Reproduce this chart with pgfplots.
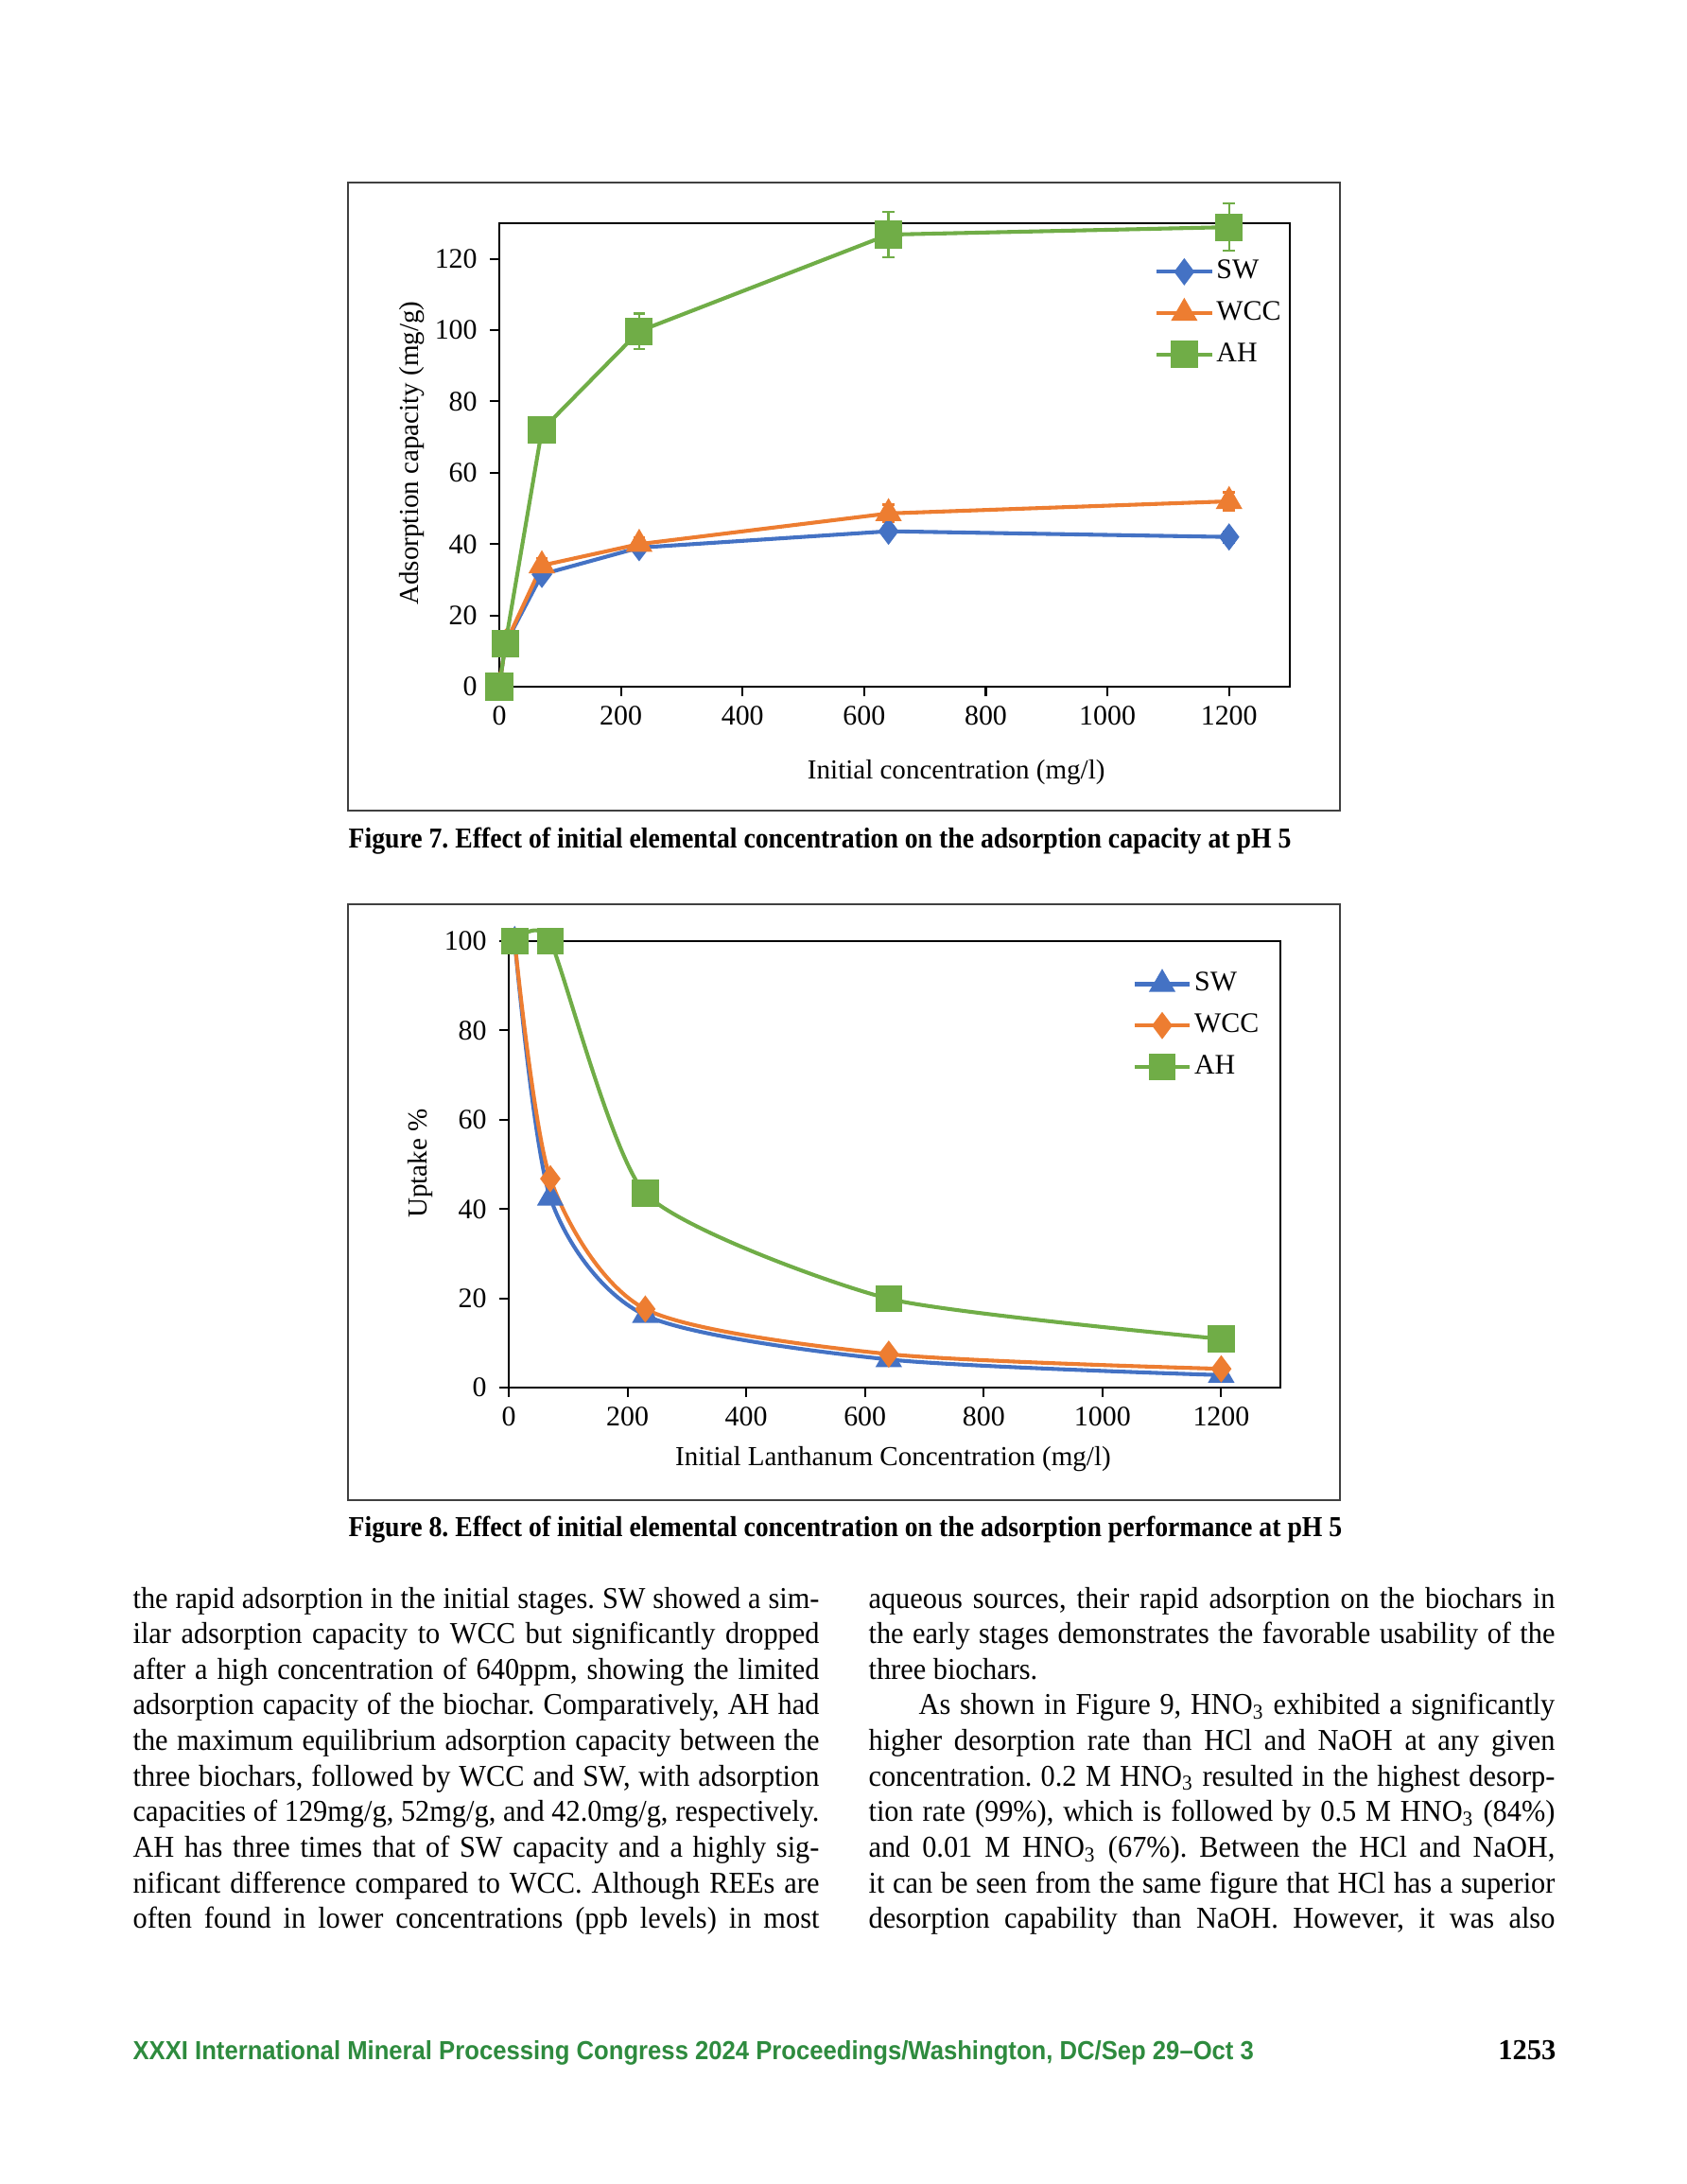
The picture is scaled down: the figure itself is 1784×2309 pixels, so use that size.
\documentclass[border=0pt]{standalone}
\usepackage{pgfplots}
\pgfplotsset{compat=1.18}
\usepackage{fontspec}
\setmainfont{Liberation Serif}
\newfontfamily\bodyfont{Liberation Serif}[FakeStretch=0.95]
\newfontfamily\capfont{Liberation Serif}[FakeStretch=0.91]
\newfontfamily\footfont{Liberation Sans}[FakeStretch=0.93]
\definecolor{sw}{HTML}{4472C4}
\definecolor{wcc}{HTML}{ED7D31}
\definecolor{ah}{HTML}{70AD47}
\definecolor{footgreen}{HTML}{2E8B3E}
\newlength\colw \setlength\colw{249bp}
\newcommand\bl[1]{\makebox[\colw][s]{#1}}
\newcommand\lastl[1]{\makebox[\colw][l]{#1}}
\frenchspacing

\pgfplotsset{
  page axis/.style={
    scale only axis, clip=false,
    xmin=0, xmax=1300, xtick={0,200,...,1200},
    tick align=outside, major tick length=3.5bp,
    xtick pos=bottom, ytick pos=left,
    axis line style={line width=0.7bp},
    every tick/.style={black, line width=0.7bp},
    tick label style={font=\fontsize{10.3}{12}\selectfont},
    yticklabel style={xshift=-1bp},
    /pgf/number format/assume math mode=true,
    /pgf/number format/1000 sep={},
    label style={font=\fontsize{10}{12}\selectfont},
    legend style={draw=none, fill=none, anchor=north west,
      font=\fontsize{10.3}{12}\selectfont,
      nodes={inner xsep=1bp, inner ysep=0pt, text height=7bp, text depth=2bp},
      row sep=6bp},
    legend cell align=left,
    legend image code/.code={\draw[mark repeat=2,mark phase=2,##1]
      plot coordinates {(0bp,0bp)(10bp,0bp)(20bp,0bp)};},
  },
  ser/.style={line width=1.4bp, color=#1, mark options={solid, fill=#1, draw=#1}},
}

\begin{document}
\begin{tikzpicture}[x=0.34305bp, y=-0.34305bp]
\path[use as bounding box, fill=white] (0,0) rectangle (1784,2309);

% frames around the two figures
\draw[line width=0.8bp, black!75] (368,193) rectangle (1417,857);
\draw[line width=0.8bp, black!75] (368,956) rectangle (1417,1586);
\coordinate (A) at (528,726);
\coordinate (B) at (538,1467);

% Figure 7
\begin{axis}[page axis,
  at={(A)}, anchor=south west,
  width=286.8bp, height=168.1bp,
  ymin=0, ymax=130, ytick={0,20,...,120},
  xlabel={Initial concentration (mg/l)},
  ylabel={Adsorption capacity (mg/g)},
  every axis x label/.style={at={(axis description cs:0.578,-0.184)}, anchor=center},
  every axis y label/.style={at={(axis description cs:-0.110,0.504)}, anchor=center, rotate=90},
  legend style={at={(axis description cs:0.818,0.935)}},
  error bars/y dir=both, error bars/y explicit,
  error bars/error bar style={line width=0.8bp},
  error bars/error mark options={line width=0.8bp, mark size=2.2bp, rotate=90},
]
\addplot[ser=sw, mark=diamond*, mark size=3.8bp] coordinates {
  (0,0) +- (0,0) (10,12) +- (0,0.5) (70,31.5) +- (0,1) (230,39) +- (0,1.5)
  (640,43.6) +- (0,1.5) (1200,42) +- (0,1.5)};
\addlegendentry{SW}
\addplot[ser=wcc, mark=triangle*, mark size=4.2bp] coordinates {
  (0,0) +- (0,0) (10,12) +- (0,0.5) (70,34) +- (0,2) (230,40) +- (0,2)
  (640,48.6) +- (0,2.5) (1200,52) +- (0,2.5)};
\addlegendentry{WCC}
\addplot[ser=ah, mark=square*, mark size=4.3bp] coordinates {
  (0,0) +- (0,0) (10,12) +- (0,1) (70,72) +- (0,3.5) (230,99.7) +- (0,5)
  (640,126.8) +- (0,6.3) (1200,128.9) +- (0,6.6)};
\addlegendentry{AH}
\end{axis}

% Figure 8
\begin{axis}[page axis,
  at={(B)}, anchor=south west,
  width=280bp, height=161.9bp,
  ymin=0, ymax=100, ytick={0,20,...,100},
  xlabel={Initial Lanthanum Concentration (mg/l)},
  ylabel={Uptake \%},
  every axis x label/.style={at={(axis description cs:0.498,-0.159)}, anchor=center},
  every axis y label/.style={at={(axis description cs:-0.114,0.502)}, anchor=center, rotate=90},
  legend style={at={(axis description cs:0.797,0.945)}},
]
\addplot[ser=sw, smooth, tension=0.45, mark=triangle*, mark size=4.2bp] coordinates {
  (10,100) (70,42.5) (230,16.2) (640,6.3) (1200,2.8)};
\addlegendentry{SW}
\addplot[ser=wcc, smooth, tension=0.45, mark=diamond*, mark size=3.8bp] coordinates {
  (10,100) (70,46.8) (230,17.6) (640,7.5) (1200,4.2)};
\addlegendentry{WCC}
\addplot[ser=ah, smooth, tension=0.35, mark=square*, mark size=4.2bp] coordinates {
  (10,100) (70,100) (230,43.5) (640,19.9) (1200,10.9)};
\addlegendentry{AH}
\end{axis}

% captions
\node[anchor=base west, inner sep=0pt, font=\capfont\bfseries\fontsize{10.5}{12}\selectfont] at (368,896)
  {Figure 7. Effect of initial elemental concentration on the adsorption capacity at pH 5};
\node[anchor=base west, inner sep=0pt, font=\capfont\bfseries\fontsize{10.5}{12}\selectfont] at (368,1624)
  {Figure 8. Effect of initial elemental concentration on the adsorption performance at pH 5};

% body text, left column
\begin{scope}[every node/.style={anchor=base west, inner sep=0pt, font=\bodyfont\fontsize{11}{12}\selectfont}]
\node at (140,1700) {\bl{the rapid adsorption in the initial stages. SW showed a sim-}};
\node at (140,1737.6) {\bl{ilar adsorption capacity to WCC but significantly dropped}};
\node at (140,1775.3) {\bl{after a high concentration of 640ppm, showing the limited}};
\node at (140,1812.9) {\bl{adsorption capacity of the biochar. Comparatively, AH had}};
\node at (140,1850.6) {\bl{the maximum equilibrium adsorption capacity between the}};
\node at (140,1888.2) {\bl{three biochars, followed by WCC and SW, with adsorption}};
\node at (140,1925.9) {\bl{capacities of 129mg/g, 52mg/g, and 42.0mg/g, respectively.}};
\node at (140,1963.5) {\bl{AH has three times that of SW capacity and a highly sig-}};
\node at (140,2001.2) {\bl{nificant difference compared to WCC. Although REEs are}};
\node at (140,2038.8) {\bl{often found in lower concentrations (ppb levels) in most}};
% right column
\node at (918,1700) {\bl{aqueous sources, their rapid adsorption on the biochars in}};
\node at (918,1737.6) {\bl{the early stages demonstrates the favorable usability of the}};
\node at (918,1775.3) {\lastl{three biochars.}};
\node at (971,1812.9) {\makebox[\dimexpr\colw-18.2bp\relax][s]{As shown in Figure 9, HNO\textsubscript{3} exhibited a significantly}};
\node at (918,1850.6) {\bl{higher desorption rate than HCl and NaOH at any given}};
\node at (918,1888.2) {\bl{concentration. 0.2 M HNO\textsubscript{3} resulted in the highest desorp-}};
\node at (918,1925.9) {\bl{tion rate (99\%), which is followed by 0.5 M HNO\textsubscript{3} (84\%)}};
\node at (918,1963.5) {\bl{and 0.01 M HNO\textsubscript{3} (67\%). Between the HCl and NaOH,}};
\node at (918,2001.2) {\bl{it can be seen from the same figure that HCl has a superior}};
\node at (918,2038.8) {\bl{desorption capability than NaOH. However, it was also}};
\end{scope}

% footer
\node[anchor=base west, inner sep=0pt, text=footgreen, font=\footfont\bfseries\fontsize{9.5}{11}\selectfont] at (140,2177)
  {XXXI International Mineral Processing Congress 2024 Proceedings/Washington, DC/Sep 29–Oct 3};
\node[anchor=base east, inner sep=0pt, font=\bfseries\fontsize{10.5}{12}\selectfont] at (1646,2177) {1253};
\end{tikzpicture}
\end{document}
